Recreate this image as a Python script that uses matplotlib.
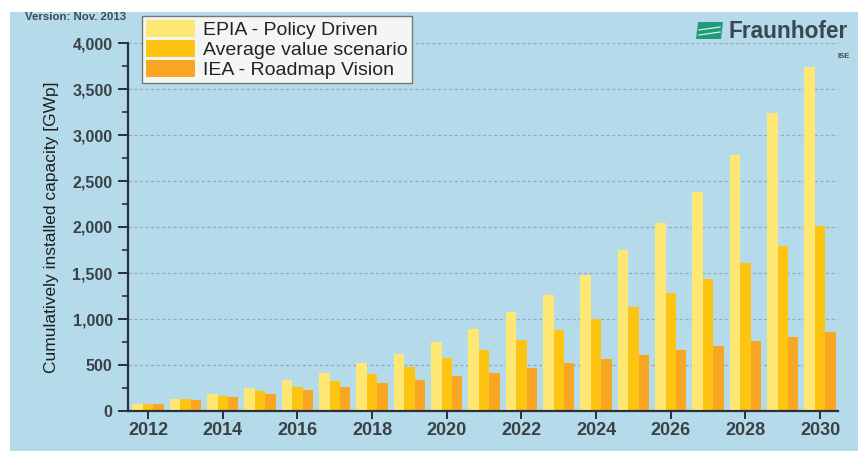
import numpy as np
import matplotlib
matplotlib.use("Agg")
import matplotlib.pyplot as plt
from matplotlib.patches import Rectangle, Polygon
from matplotlib.ticker import MultipleLocator, FuncFormatter

years = list(range(2012, 2031))
epia = [75, 130, 185, 250, 335, 415, 520, 620, 755, 895,
        1073, 1260, 1478, 1750, 2045, 2384, 2783, 3236, 3740]
average = [75, 128, 165, 212, 264, 330, 402, 482, 572, 662,
           768, 880, 998, 1127, 1279, 1431, 1605, 1797, 2011]
iea = [75, 125, 155, 188, 232, 265, 305, 340, 378, 412,
       471, 518, 562, 609, 663, 706, 761, 808, 862]
labels = ["EPIA - Policy Driven", "Average value scenario", "IEA - Roadmap Vision"]
colors = ["#fee873", "#fdc512", "#f9a723"]

plt.rcParams["font.family"] = ["Liberation Sans", "DejaVu Sans"]

fig = plt.figure(figsize=(8.62, 4.51), dpi=100)
fig.patch.set_facecolor("white")
bg = "#b5dbea"
fig.patches.append(Rectangle((10 / 862, 0), 848 / 862, 1 - 12 / 451,
                             transform=fig.transFigure, facecolor=bg,
                             edgecolor="none", zorder=-5))

ax = fig.add_axes([128 / 862, 1 - 411 / 451, 710 / 862, 368 / 451])
ax.set_facecolor("none")

x = np.array(years)
w = 0.28
for i, (vals, lab, col) in enumerate(zip([epia, average, iea], labels, colors)):
    ax.bar(x + (i - 1) * w, vals, width=w, color=col, label=lab, zorder=3)

ax.set_xlim(2011.46, 2030.48)
ax.set_ylim(0, 4000)
ax.yaxis.set_major_locator(MultipleLocator(500))
ax.yaxis.set_minor_locator(MultipleLocator(250))
ax.yaxis.set_major_formatter(FuncFormatter(lambda v, p: f"{int(v):,}"))
ax.set_xticks(range(2012, 2031, 2))

for v in range(500, 4001, 500):
    ax.axhline(v, color="#94abb6", linewidth=0.9, linestyle=(0, (2.5, 2)), zorder=1)

for s in ["top", "right"]:
    ax.spines[s].set_visible(False)
for s in ["left", "bottom"]:
    ax.spines[s].set_color("#2a3238")
    ax.spines[s].set_linewidth(1.6)
    ax.spines[s].set_zorder(4)

ax.tick_params(axis="y", which="major", length=7, width=1.4, color="#2a3238",
               labelsize=11.5, labelcolor="#3a4248", pad=4)
ax.tick_params(axis="y", which="minor", length=4, width=1.2, color="#2a3238")
ax.tick_params(axis="x", which="major", length=6, width=1.4, color="#2a3238",
               labelsize=13, labelcolor="#3a4248", pad=2)
for t in ax.get_xticklabels() + ax.get_yticklabels():
    t.set_fontweight("bold")

ax.set_ylabel("Cumulatively installed capacity [GWp]", fontsize=12.5,
              color="#1e1e1e", labelpad=10)

leg = ax.legend(loc="upper left", bbox_to_anchor=(142 / 862, 1 - 16 / 451),
                bbox_transform=fig.transFigure, borderaxespad=0,
                fontsize=14, frameon=True, fancybox=False,
                handlelength=2.5, handleheight=0.95, handletextpad=0.45,
                labelspacing=0.05, borderpad=0.2)
leg.get_frame().set_edgecolor("#777")
leg.get_frame().set_facecolor("#f4f6f4")
leg.get_frame().set_alpha(1)
leg.set_zorder(6)
for t in leg.get_texts():
    t.set_color("#222")

fig.text(25 / 862, 1 - 17 / 451, "Version: Nov. 2013", fontsize=8.2,
         fontweight="bold", color="#3d4a52", va="center", ha="left")

# Fraunhofer logo
logo = Polygon([(698 / 862, 1 - 22 / 451), (723 / 862, 1 - 22 / 451),
                (721 / 862, 1 - 39 / 451), (696 / 862, 1 - 39 / 451)],
               closed=True, transform=fig.transFigure,
               facecolor="#1f9a7b", edgecolor="none", zorder=5)
fig.patches.append(logo)
for yy in [27, 32]:
    fig.lines.append(plt.Line2D([699 / 862, 720 / 862],
                                [1 - (yy + 3) / 451, 1 - yy / 451],
                                transform=fig.transFigure, color="#d8efe8",
                                linewidth=0.9, zorder=6))
fig.text(729 / 862, 1 - 31 / 451, "Fraunhofer", fontsize=16.3,
         fontweight="bold", color="#3a4650", va="center", ha="left")
fig.text(850 / 862, 1 - 57 / 451, "ISE", fontsize=5.5,
         fontweight="bold", color="#3a4650", va="center", ha="right")

fig.savefig("out.png", dpi=100, facecolor=fig.get_facecolor())
